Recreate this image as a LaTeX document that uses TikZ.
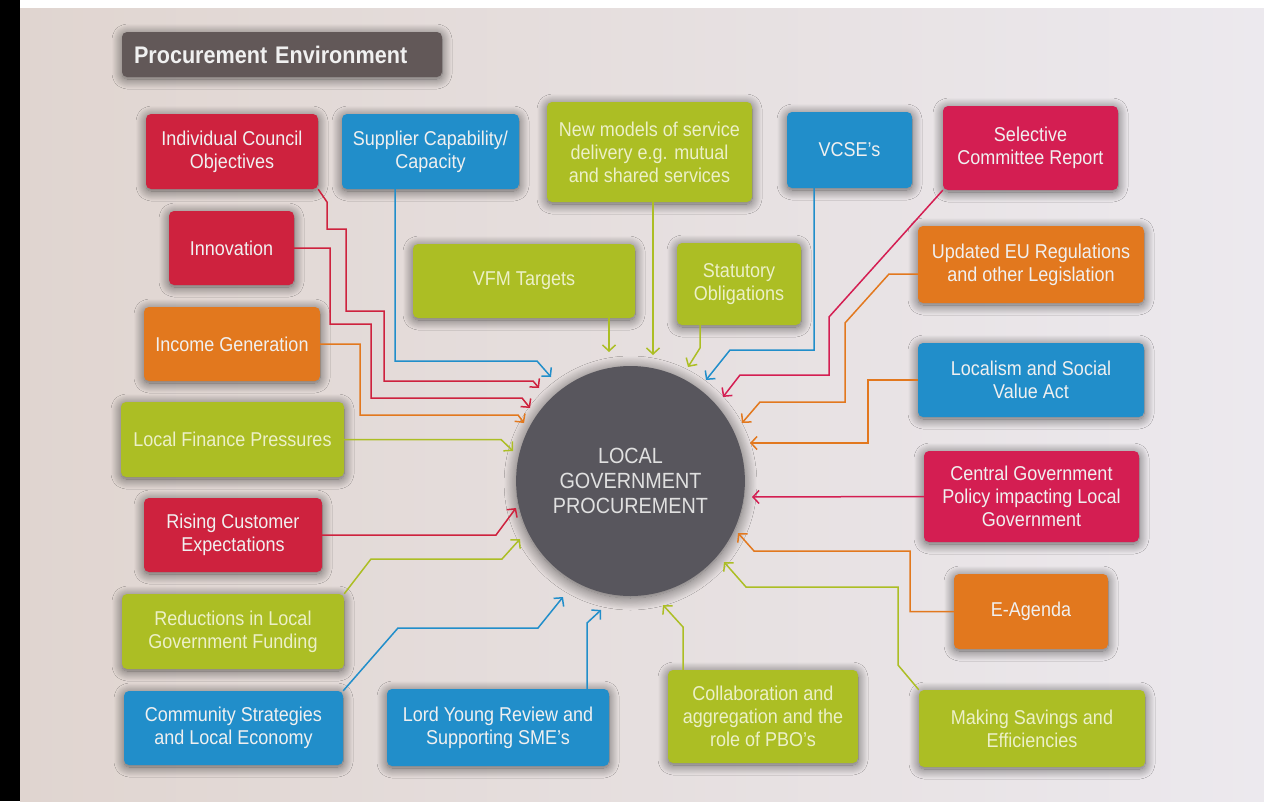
\documentclass[tikz,border=0pt]{standalone}
\usepackage{fontspec}
\setmainfont{Liberation Sans}[FakeStretch=0.9]
\usepackage{xcolor}
\usetikzlibrary{shapes.geometric,arrows.meta,shadows.blur}
\definecolor{crimson}{RGB}{206,34,62}
\definecolor{rose}{RGB}{212,30,82}
\definecolor{cobalt}{RGB}{33,142,202}
\definecolor{citrus}{RGB}{172,190,36}
\definecolor{amber}{RGB}{226,120,30}
\definecolor{charcoal}{RGB}{98,88,88}
\definecolor{core}{RGB}{88,86,93}
\definecolor{paper}{RGB}{224,213,208}
\definecolor{paperright}{RGB}{236,233,238}
\definecolor{pale}{RGB}{236,240,200}
\tikzstyle{box}=[rectangle, rounded corners=5pt, align=center, text=white!94!black, inner sep=2pt,
  font=\fontsize{20pt}{23pt}\selectfont,
  blur shadow={shadow xshift=0pt, shadow yshift=-2pt, shadow blur radius=10pt, shadow blur steps=14, shadow opacity=60}]
\tikzset{link/.style={line width=1.5pt, -{Straight Barb[length=6pt,width=13pt]}}}
\tikzstyle{crimson}=[fill = crimson]
\tikzstyle{rose}=[fill = rose]
\tikzstyle{cobalt}=[fill = cobalt]
\tikzstyle{citrus}=[fill = citrus, text = pale]
\tikzstyle{amber}=[fill = amber]

\begin{document}
\begin{tikzpicture}[x=1pt,y=-1pt]
  \useasboundingbox (0,0) rectangle (1264,801);
  \fill[black] (0,0) rectangle (20,801);
  \fill[white] (20,0) rectangle (1264,8);
  \shade[left color=paper, right color=paperright] (20,8) rectangle (1264,801);

  \draw (282,54.5) node[box,fill=charcoal,minimum width=320pt,minimum height=45pt,text width=296pt,align=left,font=\bfseries\fontsize{24pt}{28pt}\selectfont] (PE) {Procurement Environment};

  %% Left column
  \draw (232,151.5) node[box,crimson,minimum width=172pt,minimum height=75pt] (ICO) {Individual Council\\Objectives};
  \draw (231.5,248) node[box,crimson,minimum width=125pt,minimum height=74pt] (INN) {Innovation};
  \draw (232,344) node[box,amber,minimum width=176pt,minimum height=74pt] (INC) {Income Generation};
  \draw (232.5,439.5) node[box,citrus,minimum width=223pt,minimum height=75pt] (LFP) {Local Finance Pressures};
  \draw (233,535) node[box,crimson,minimum width=178pt,minimum height=74pt] (RCE) {Rising Customer\\Expectations};
  \draw (233,631.5) node[box,citrus,minimum width=222pt,minimum height=75pt] (RLG) {Reductions in Local\\Government Funding};
  \draw (233.5,728) node[box,cobalt,minimum width=219pt,minimum height=74pt] (CSL) {Community Strategies\\and Local Economy};

  %% Top row
  \draw (430.5,151.5) node[box,cobalt,minimum width=177pt,minimum height=75pt] (SUP) {Supplier Capability/\\Capacity};
  \draw (649.5,152) node[box,citrus,minimum width=205pt,minimum height=100pt] (NMS) {New models of service\\delivery e.g. mutual\\and shared services};
  \draw (849.5,150) node[box,cobalt,minimum width=125pt,minimum height=76pt] (VCS) {VCSE's};
  \draw (1030.5,148) node[box,rose,minimum width=175pt,minimum height=84pt] (SCR) {Selective\\Committee Report};
  \draw (524,281) node[box,citrus,minimum width=222pt,minimum height=74pt] (VFM) {VFM Targets};
  \draw (739,284) node[box,citrus,minimum width=124pt,minimum height=82pt] (STO) {Statutory\\Obligations};

  %% Right column
  \draw (1031,264.5) node[box,amber,minimum width=226pt,minimum height=77pt] (UEU) {Updated EU Regulations\\and other Legislation};
  \draw (1031,380) node[box,cobalt,minimum width=226pt,minimum height=74pt] (LSV) {Localism and Social\\Value Act};
  \draw (1031.5,496.5) node[box,rose,minimum width=215pt,minimum height=91pt] (CGP) {Central Government\\Policy impacting Local\\Government};
  \draw (1031,611.5) node[box,amber,minimum width=154pt,minimum height=75pt] (EAG) {E-Agenda};
  \draw (1032,728.5) node[box,citrus,minimum width=226pt,minimum height=77pt] (MSE) {Making Savings and\\Efficiencies};

  %% Bottom row
  \draw (498,727.5) node[box,cobalt,minimum width=222pt,minimum height=77pt] (LYR) {Lord Young Review and\\Supporting SME's};
  \draw (763,716.5) node[box,citrus,minimum width=190pt,minimum height=93pt] (CAP) {Collaboration and\\aggregation and the\\role of PBO's};

  %% Centre
  \draw (630.5,481) node[ellipse,fill=core,minimum width=205pt,minimum height=230pt,align=center,text=white!88!black,
    font=\fontsize{22pt}{25pt}\selectfont,
    blur shadow={shadow xshift=0pt, shadow yshift=-2pt, shadow blur radius=12pt, shadow blur steps=14, shadow opacity=60}] (LGP) {LOCAL\\GOVERNMENT\\PROCUREMENT};

  %% Arrow tips round the centre
  \coordinate (tICO) at (539,388);
  \coordinate (tSUP) at (551,377);
  \coordinate (tINN) at (530,408);
  \coordinate (tINC) at (524,423);
  \coordinate (tLFP) at (513,451);
  \coordinate (tRCE) at (516,508);
  \coordinate (tRLG) at (520,539);
  \coordinate (tCSL) at (563,597);
  \coordinate (tLYR) at (601,610);
  \coordinate (tCAP) at (663,605);
  \coordinate (tMSE) at (724,562);
  \coordinate (tEAG) at (738,533);
  \coordinate (tCGP) at (752,497);
  \coordinate (tLSV) at (750,443);
  \coordinate (tUEU) at (742,423);
  \coordinate (tSCR) at (723,397);
  \coordinate (tVCS) at (706,380);
  \coordinate (tSTO) at (688,367);
  \coordinate (tNMS) at (653,355);
  \coordinate (tVFM) at (609,352);

  \draw[link,color=crimson] (ICO.south east) -- (327,202) -- (327,229) -- (346,229) -- (346,311) -- (384,311) -- (384,381) -- (533,381) -- (tICO);
  \draw[link,color=cobalt] ([xshift=-35.5pt]SUP.south) -- (395,361) -- (537,361) -- (tSUP);
  \draw[link,color=crimson] (INN.east) -- (330,248) -- (330,324) -- (371,324) -- (371,398) -- (522,398) -- (tINN);
  \draw[link,color=amber] (INC.east) -- (360,344) -- (360,415) -- (518,415) -- (tINC);
  \draw[link,color=citrus] (LFP.east) -- (501,439.5) -- (tLFP);
  \draw[link,color=crimson] (RCE.east) -- (496,535) -- (tRCE);
  \draw[link,color=citrus] (RLG.north east) -- (371,559) -- (502,559) -- (tRLG);
  \draw[link,color=cobalt] (CSL.north east) -- (398,628) -- (538,628) -- (tCSL);
  \draw[link,color=cobalt] ([xshift=89pt]LYR.north) -- (587,623) -- (tLYR);
  \draw[link,color=citrus] ([xshift=-80pt]CAP.north) -- (683,627) -- (tCAP);
  \draw[link,color=citrus] (MSE.north west) -- (898,665) -- (898,587) -- (746,587) -- (tMSE);
  \draw[link,color=amber] (EAG.west) -- (910,611.5) -- (910,551) -- (754,551) -- (tEAG);
  \draw[link,color=rose] (CGP.west) -- (tCGP);
  \draw[link,color=amber] (LSV.west) -- (868,380) -- (868,443) -- (tLSV);
  \draw[link,color=amber] ([yshift=-9.5pt]UEU.west) -- (889,274) -- (845,323) -- (845,402) -- (760,402) -- (tUEU);
  \draw[link,color=rose] (SCR.south west) -- (829,317) -- (829,375) -- (740,375) -- (tSCR);
  \draw[link,color=cobalt] ([xshift=-35.5pt]VCS.south) -- (814,350) -- (730,350) -- (tVCS);
  \draw[link,color=citrus] ([xshift=-39pt]STO.south) -- (700,348) -- (tSTO);
  \draw[link,color=citrus] ([xshift=3.5pt]NMS.south) -- (tNMS);
  \draw[link,color=citrus] ([xshift=85pt]VFM.south) -- (tVFM);
\end{tikzpicture}
\end{document}
